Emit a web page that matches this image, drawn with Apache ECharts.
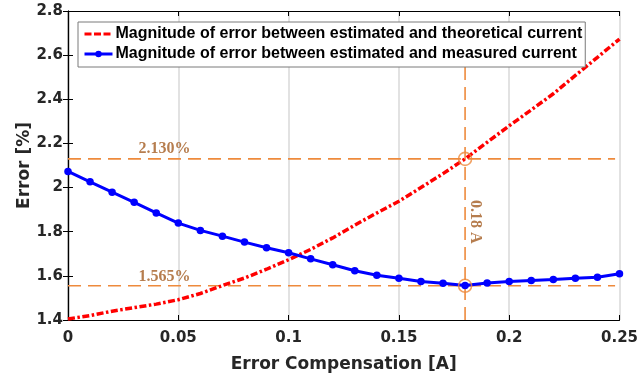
<!DOCTYPE html>
<html>
<head>
<meta charset="utf-8">
<script src="https://cdn.jsdelivr.net/npm/echarts@6/dist/echarts.min.js"></script>
<style>
html,body{margin:0;padding:0;background:#fff;}
#chart{width:641px;height:379px;}
</style>
</head>
<body>
<div id="chart"></div>
<script>
// ---- data ----
const xValues = [0,0.01,0.02,0.03,0.04,0.05,0.06,0.07,0.08,0.09,0.10,0.11,0.12,0.13,0.14,0.15,0.16,0.17,0.18,0.19,0.20,0.21,0.22,0.23,0.24,0.25];
const theoreticalError = [1.405,1.420,1.440,1.456,1.472,1.492,1.520,1.556,1.590,1.630,1.673,1.720,1.772,1.830,1.885,1.938,2.000,2.063,2.130,2.205,2.280,2.352,2.425,2.508,2.590,2.673];
const measuredError = [2.073,2.026,1.979,1.933,1.885,1.839,1.806,1.780,1.753,1.727,1.705,1.677,1.650,1.623,1.603,1.589,1.574,1.567,1.556,1.568,1.574,1.579,1.583,1.589,1.594,1.610];
const seriesNames = ['Magnitude of error between estimated and theoretical current','Magnitude of error between estimated and measured current'];
const xTickLabels = ['0','0.05','0.1','0.15','0.2','0.25'];
const yTickLabels = ['1.4','1.6','1.8','2','2.2','2.4','2.6','2.8'];
const optimumX = 0.18;
const upperLevel = 2.13;
const lowerLevel = 1.555;
const upperLabel = '2.130%';
const lowerLabel = '1.565%';
const optimumLabel = '0.18 A';
const hLineX = [0, 0.248];
const vLineY = [1.4, 2.6];
const labelX = 0.0437;
const optimumLabelY = 1.845;

const orange = '#EE8A3C';
const brown = '#A45C22';
const tickFont = {fontFamily:'DejaVu Sans', fontWeight:'bold', fontSize:15, color:'#262626'};

const chart = echarts.init(document.getElementById('chart'), null, {renderer:'canvas'});
const zip = (xs, ys) => xs.map((x,i)=>[x, ys[i]]);

const option = {
  animation:false,
  backgroundColor:'#fff',
  grid:{left:68, right:18, top:11, bottom:59, containLabel:false},
  legend:{
    data: [
      {name:seriesNames[0], itemStyle:{color:'rgba(0,0,0,0)', borderWidth:0}, lineStyle:{color:'#FF0000', width:3, type:[7,2.5]}},
      {name:seriesNames[1], lineStyle:{color:'#0000FF', width:3, type:'solid'}}
    ],
    orient:'vertical',
    left:78, top:22,
    backgroundColor:'#fff',
    borderColor:'#7a7a7a', borderWidth:1,
    padding:[4,3,5,5],
    itemWidth:28, itemHeight:8, itemGap:4,
    textStyle:{fontFamily:'Liberation Sans', fontWeight:'bold', fontSize:16, color:'#000', padding:[0,0,0,-2]},
    z:10
  },
  xAxis:[
    {type:'value', min:0, max:0.25, interval:0.05, position:'bottom',
     name:'Error Compensation [A]', nameLocation:'middle', nameGap:36, nameMoveOverlap:false,
     nameTextStyle:{fontFamily:'DejaVu Sans', fontWeight:'bold', fontSize:17, color:'#262626'},
     axisLine:{show:true, lineStyle:{color:'#000', width:1.2}},
     axisTick:{show:true, inside:true, length:5, lineStyle:{color:'#000'}},
     axisLabel:{...tickFont, margin:11, formatter:(v)=>xTickLabels[Math.round(v/0.05)]},
     splitLine:{show:true, lineStyle:{color:'#d9d9d9', width:1.5}}
    },
    {type:'value', min:0, max:0.25, interval:0.05, position:'top',
     axisLine:{show:true, lineStyle:{color:'#000', width:1.2}},
     axisTick:{show:true, inside:true, length:5, lineStyle:{color:'#000'}},
     axisLabel:{show:false}, splitLine:{show:false}
    }
  ],
  yAxis:[
    {type:'value', min:1.4, max:2.8, interval:0.2, position:'left',
     name:'Error [%]', nameLocation:'middle', nameGap:35, nameRotate:90, nameMoveOverlap:false,
     nameTextStyle:{fontFamily:'DejaVu Sans', fontWeight:'bold', fontSize:17, color:'#262626'},
     axisLine:{show:true, lineStyle:{color:'#000', width:1.2}},
     axisTick:{show:true, inside:true, length:5, lineStyle:{color:'#000'}},
     axisLabel:{...tickFont, margin:5, formatter:(v)=>yTickLabels[Math.round((v-1.4)/0.2)]},
     splitLine:{show:false}
    },
    {type:'value', min:1.4, max:2.8, interval:0.2, position:'right',
     axisLine:{show:true, lineStyle:{color:'#000', width:1.2}},
     axisTick:{show:true, inside:true, length:5, lineStyle:{color:'#000'}},
     axisLabel:{show:false}, splitLine:{show:false}
    }
  ],
  series:[
    {name:'hUpper', type:'line', data: hLineX.map(x=>[x, upperLevel]), symbol:'none', silent:true,
     lineStyle:{color:orange, width:1.6, type:[13,7]}, z:1},
    {name:'hLower', type:'line', data: hLineX.map(x=>[x, lowerLevel]), symbol:'none', silent:true,
     lineStyle:{color:orange, width:1.6, type:[13,7]}, z:1},
    {name:'vOpt', type:'line', data: vLineY.map(y=>[optimumX, y]), symbol:'none', silent:true,
     lineStyle:{color:orange, width:1.6, type:[13,7]}, z:1},
    {name:seriesNames[0], type:'line', data: zip(xValues, theoreticalError), symbol:'none',
     itemStyle:{color:'#FF0000'},
     lineStyle:{color:'#FF0000', width:3.5, type:[7,2.5,2.5,2.5]}, z:3},
    {name:seriesNames[1], type:'line', data: zip(xValues, measuredError), symbol:'circle', symbolSize:7.5,
     itemStyle:{color:'#0000FF'},
     lineStyle:{color:'#0000FF', width:3}, z:4},
    {name:'circles', type:'scatter', data:[[optimumX, upperLevel],[optimumX, lowerLevel]],
     symbol:'circle', symbolSize:13, itemStyle:{color:'rgba(0,0,0,0)', borderColor:orange, borderWidth:1.6}, z:5},
    {name:'labels', type:'scatter', symbolSize:0, silent:true, z:6,
     data:[
       {value:[labelX, upperLevel], label:{formatter:upperLabel, offset:[0,-10]}},
       {value:[labelX, lowerLevel], label:{formatter:lowerLabel, offset:[0,-9]}},
       {value:[optimumX, optimumLabelY], label:{formatter:optimumLabel, rotate:-90, offset:[0,-10]}}
     ],
     label:{show:true, position:'inside', fontFamily:'Liberation Serif', fontWeight:'bold', fontSize:16, color:brown}
    }
  ]
};
chart.setOption(option);
</script>
</body>
</html>
